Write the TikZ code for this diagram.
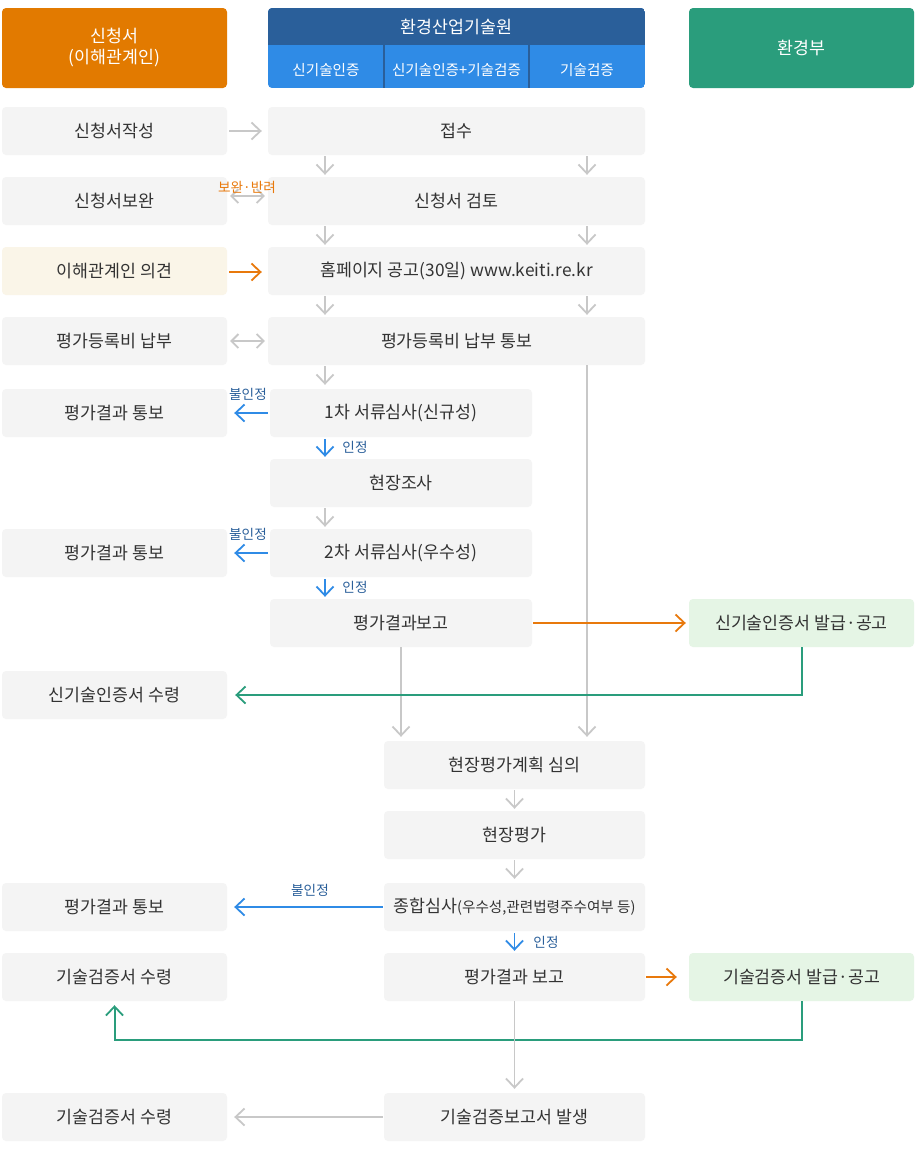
\documentclass[tikz,border=0pt]{standalone}
\usepackage{fontspec}
\setmainfont{Noto Sans CJK KR}
\usetikzlibrary{arrows.meta,calc}
\definecolor{hdorange}{HTML}{E27A00}
\definecolor{hddark}{HTML}{2A5F9A}
\definecolor{hdlight}{HTML}{2F8BE6}
\definecolor{hdgreen}{HTML}{2A9D7C}
\definecolor{boxgray}{HTML}{F4F4F4}
\definecolor{cream}{HTML}{FAF5E8}
\definecolor{lgreen}{HTML}{E5F5E5}
\definecolor{txt}{HTML}{333333}
\definecolor{agray}{HTML}{C8C8C8}
\definecolor{aorange}{HTML}{E8790C}
\definecolor{ablue}{HTML}{2F8BE6}
\definecolor{lblue}{HTML}{2A5F9A}
\begin{document}
\begin{tikzpicture}[x=1pt,y=-1pt,
  box/.style={fill=boxgray, rounded corners=4pt, minimum height=48pt, text=txt,
    font=\fontsize{17.3}{20}\selectfont, inner sep=0pt, anchor=center},
  lbox/.style={box, minimum width=225pt},
  fbox/.style={box, minimum width=377pt},
  mbox/.style={box, minimum width=262pt},
  rbox/.style={box, minimum width=261pt},
  hdr/.style={rounded corners=4pt, text=white, minimum height=80pt, minimum width=225pt,
    font=\fontsize{17.3}{21}\selectfont, inner sep=0pt, align=center},
  sub/.style={text=white, font=\fontsize{14.6}{16}\selectfont, inner sep=0pt},
  tipb/.style={-{Straight Barb[length=9pt,width=17pt,line width=1.8pt]}},
  garr/.style={draw=agray, line width=1.8pt, tipb},
  gdbl/.style={draw=agray, line width=1.8pt, {Straight Barb[length=7pt,width=14pt]}-{Straight Barb[length=7pt,width=14pt]}},
  oarr/.style={draw=aorange, line width=1.8pt, tipb},
  barr/.style={draw=ablue, line width=1.8pt, tipb},
  grline/.style={draw=hdgreen, line width=2pt, tipb},
  lab/.style={font=\fontsize{13.6}{15}\selectfont, inner sep=0pt}
]
\useasboundingbox (0,0) rectangle (916,1151);
\fill[white] (0,0) rectangle (916,1151);

% headers
\node[hdr, fill=hdorange] (h1) at (114.5,48) {신청서\\(이해관계인)};
\node[hdr, fill=hdgreen] (h3) at (801.5,48) {환경부};
\begin{scope}
  \clip[rounded corners=4pt] (268,8) rectangle (645,88);
  \fill[hdlight] (268,8) rectangle (645,88);
  \fill[hddark] (268,8) rectangle (645,45);
  \draw[hddark, line width=1.5pt] (384,45) -- (384,88) (529,45) -- (529,88);
\end{scope}
\node[text=white, font=\fontsize{17.3}{20}\selectfont, inner sep=0pt] (h2) at (456.5,27) {환경산업기술원};
\node[sub] (s1) at (326,70) {신기술인증};
\node[sub] (s2) at (456.5,70) {신기술인증+기술검증};
\node[sub] (s3) at (587,70) {기술검증};

% left column
\node[lbox] (l1) at (114.5,131) {신청서작성};
\node[lbox] (l2) at (114.5,201) {신청서보완};
\node[lbox, fill=cream] (l3) at (114.5,271) {이해관계인 의견};
\node[lbox] (l4) at (114.5,341) {평가등록비 납부};
\node[lbox] (l5) at (114.5,413) {평가결과 통보};
\node[lbox] (l7) at (114.5,553) {평가결과 통보};
\node[lbox] (l8) at (114.5,695) {신기술인증서 수령};
\node[lbox] (l11) at (114.5,907) {평가결과 통보};
\node[lbox] (l12) at (114.5,977) {기술검증서 수령};
\node[lbox] (l13) at (114.5,1117) {기술검증서 수령};

% middle
\node[fbox] (m1) at (456.5,131) {접수};
\node[fbox] (m2) at (456.5,201) {신청서 검토};
\node[fbox] (m3) at (456.5,271) {홈페이지 공고(30일) www.keiti.re.kr};
\node[fbox] (m4) at (456.5,341) {평가등록비 납부 통보};
\node[mbox] (m5) at (401,413) {1차 서류심사(신규성)};
\node[mbox] (m6) at (401,483) {현장조사};
\node[mbox] (m7) at (401,553) {2차 서류심사(우수성)};
\node[mbox] (m8) at (401,623) {평가결과보고};
\node[rbox] (m9) at (514.5,765) {현장평가계획 심의};
\node[rbox] (m10) at (514.5,835) {현장평가};
\node[rbox] (m11) at (514.5,907) {종합심사{\fontsize{14.6}{16}\selectfont(우수성,관련법령주수여부 등)}};
\node[rbox] (m12) at (514.5,977) {평가결과 보고};
\node[rbox] (m13) at (514.5,1117) {기술검증보고서 발생};

% right
\node[lbox, fill=lgreen] (r8) at (801.5,623) {신기술인증서 발급·공고};
\node[lbox, fill=lgreen] (r12) at (801.5,977) {기술검증서 발급·공고};

% coordinates for arrow columns
\coordinate (ca) at (325,0);
\coordinate (cb) at (587,0);

% horizontal left arrows
\draw[garr, shorten <=2pt, shorten >=6pt] (l1.east) -- (m1.west);
\draw[gdbl, shorten <=3pt, shorten >=3pt] ([yshift=5pt]l2.east) -- ([yshift=5pt]m2.west);
\node[lab, text=aorange] (lb1) at (247,187) {보완·반려};
\draw[oarr, shorten <=2pt, shorten >=6pt] ([yshift=-1pt]l3.east) -- ([yshift=-1pt]m3.west);
\draw[gdbl, shorten <=3pt, shorten >=3pt] (l4.east) -- (m4.west);

% gray down arrows in top section
\foreach \a/\b in {m1/m2, m2/m3, m3/m4}{
  \draw[garr, shorten <=1pt, shorten >=2pt] (\a.south -| ca) -- (\b.north -| ca);
  \draw[garr, shorten <=1pt, shorten >=2pt] (\a.south -| cb) -- (\b.north -| cb);
}
\draw[garr, shorten <=1pt, shorten >=4pt] (m4.south -| ca) -- (m5.north -| ca);

% long lines
\draw[garr, shorten >=4pt] (m4.south -| cb) -- (m9.north -| cb);
\draw[garr, shorten >=4pt] (m8.south) -- (m9.north -| m8.south);

% first review
\draw[barr, shorten <=2pt, shorten >=7pt] (m5.west) -- (l5.east);
\node[lab, text=lblue] (lb2) at (248,394) {불인정};
\draw[barr, shorten <=2pt, shorten >=2pt] (m5.south -| ca) -- (m6.north -| ca);
\node[lab, text=lblue] (lb3) at (355,447) {인정};
\draw[garr, shorten <=1pt, shorten >=2pt] (m6.south -| ca) -- (m7.north -| ca);
\draw[barr, shorten <=2pt, shorten >=7pt] (m7.west) -- (l7.east);
\node[lab, text=lblue] (lb4) at (248,534) {불인정};
\draw[barr, shorten <=2pt, shorten >=2pt] (m7.south -| ca) -- (m8.north -| ca);
\node[lab, text=lblue] (lb5) at (355,587) {인정};

% certificate issue
\draw[oarr, shorten <=1pt, shorten >=3pt] (m8.east) -- (r8.west);
\draw[grline, shorten >=8pt] (r8.south) |- (l8.east);

% lower section
\draw[garr, shorten <=1pt, shorten >=2pt] (m9.south) -- (m10.north);
\draw[garr, shorten <=1pt, shorten >=4pt] (m10.south) -- (m11.north);
\draw[barr, shorten <=1pt, shorten >=7pt] (m11.west) -- (l11.east);
\node[lab, text=lblue] (lb6) at (310,890) {불인정};
\draw[barr, shorten <=2pt, shorten >=2pt] (m11.south) -- (m12.north);
\node[lab, text=lblue] (lb7) at (546,942) {인정};
\draw[oarr, shorten <=1pt, shorten >=12pt] (m12.east) -- (r12.west);
\coordinate (gl) at (0,1040);
\draw[grline, shorten >=4pt] (r12.south) -- (r12.south |- gl) -| (l12.south);
\draw[garr, shorten >=4pt] (m12.south) -- (m13.north);
\draw[garr, shorten <=1pt, shorten >=7pt] (m13.west) -- (l13.east);
\end{tikzpicture}
\end{document}
